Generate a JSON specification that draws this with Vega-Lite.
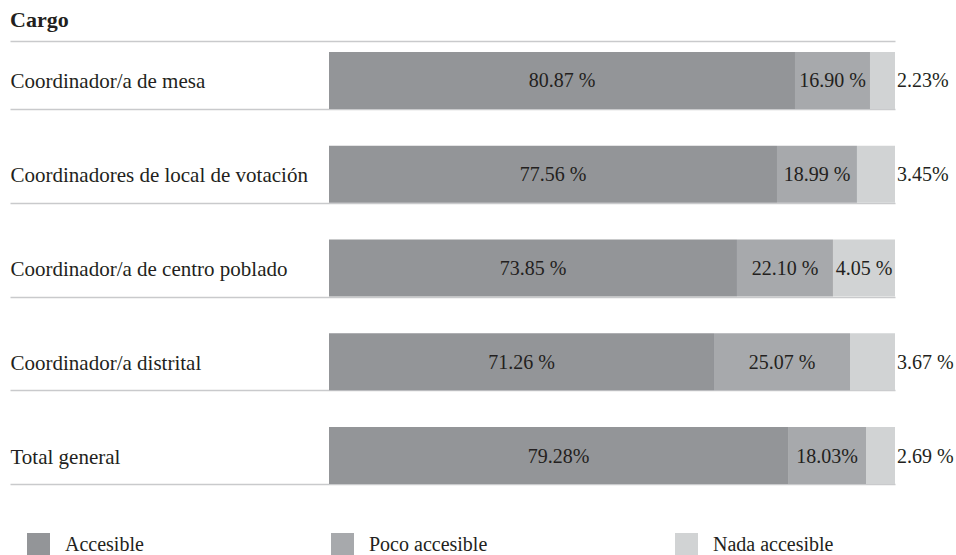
{
  "$schema": "https://vega.github.io/schema/vega-lite/v6.json",
  "autosize": {"type": "none"},
  "padding": {"left": 10, "top": 41, "right": 61, "bottom": 60},
  "width": 885,
  "height": 454,
  "background": "white",
  "title": {"text": "Cargo", "anchor": "start", "font": "Liberation Serif", "fontSize": 22, "fontWeight": "bold", "color": "#231f20", "offset": 9},
  "data": {
    "values": [
      {"cargo": "Coordinador/a de mesa", "tipo": "Accesible", "valor": 82.33, "etiqueta": "80.87 %"},
      {"cargo": "Coordinador/a de mesa", "tipo": "Poco accesible", "valor": 13.25, "etiqueta": "16.90 %"},
      {"cargo": "Coordinador/a de mesa", "tipo": "Nada accesible", "valor": 4.42, "etiqueta": "2.23%"},
      {"cargo": "Coordinadores de local de votación", "tipo": "Accesible", "valor": 79.15, "etiqueta": "77.56 %"},
      {"cargo": "Coordinadores de local de votación", "tipo": "Poco accesible", "valor": 14.13, "etiqueta": "18.99 %"},
      {"cargo": "Coordinadores de local de votación", "tipo": "Nada accesible", "valor": 6.72, "etiqueta": "3.45%"},
      {"cargo": "Coordinador/a de centro poblado", "tipo": "Accesible", "valor": 72.08, "etiqueta": "73.85 %"},
      {"cargo": "Coordinador/a de centro poblado", "tipo": "Poco accesible", "valor": 16.96, "etiqueta": "22.10 %"},
      {"cargo": "Coordinador/a de centro poblado", "tipo": "Nada accesible", "valor": 10.96, "etiqueta": "4.05 %"},
      {"cargo": "Coordinador/a distrital", "tipo": "Accesible", "valor": 68.02, "etiqueta": "71.26 %"},
      {"cargo": "Coordinador/a distrital", "tipo": "Poco accesible", "valor": 24.03, "etiqueta": "25.07 %"},
      {"cargo": "Coordinador/a distrital", "tipo": "Nada accesible", "valor": 7.95, "etiqueta": "3.67 %"},
      {"cargo": "Total general", "tipo": "Accesible", "valor": 81.10, "etiqueta": "79.28%"},
      {"cargo": "Total general", "tipo": "Poco accesible", "valor": 13.78, "etiqueta": "18.03%"},
      {"cargo": "Total general", "tipo": "Nada accesible", "valor": 5.12, "etiqueta": "2.69 %"}
    ]
  },
  "transform": [
    {"calculate": "indexof(['Accesible','Poco accesible','Nada accesible'], datum.tipo)", "as": "orden"},
    {"stack": "valor", "groupby": ["cargo"], "sort": [{"field": "orden", "order": "ascending"}], "as": ["v0", "v1"]},
    {"calculate": "(datum.v0 + datum.v1) / 2", "as": "vmid"}
  ],
  "encoding": {
    "y": {
      "field": "cargo",
      "type": "nominal",
      "sort": null,
      "scale": {"paddingInner": 0.392, "paddingOuter": 0.117},
      "axis": {
        "title": null,
        "domain": false,
        "ticks": false,
        "labelAlign": "left",
        "labelPadding": 0,
        "labelLimit": 400,
        "labelFont": "Liberation Serif",
        "labelFontSize": 21,
        "labelColor": "#231f20",
        "grid": true,
        "gridColor": "#c9cacc",
        "gridWidth": 1.5,
        "tickOffset": 28.5,
        "labelOffset": -27
      }
    }
  },
  "layer": [
    {
      "mark": {"type": "bar"},
      "encoding": {
        "x": {
          "field": "v0",
          "type": "quantitative",
          "scale": {"domain": [-56.36, 100], "nice": false, "zero": false},
          "axis": {"orient": "top", "title": null, "labels": false, "ticks": false, "grid": false, "domain": true, "domainColor": "#c9cacc", "domainWidth": 1.5}
        },
        "x2": {"field": "v1"},
        "color": {
          "field": "tipo",
          "type": "nominal",
          "scale": {"domain": ["Accesible", "Poco accesible", "Nada accesible"], "range": ["#939598", "#a7a9ac", "#d1d3d4"]},
          "legend": {
            "orient": "none",
            "legendX": 17,
            "legendY": 492,
            "direction": "horizontal",
            "title": null,
            "symbolType": "square",
            "symbolSize": 529,
            "symbolStrokeWidth": 0,
            "labelFont": "Liberation Serif",
            "labelFontSize": 20,
            "labelColor": "#231f20",
            "labelOffset": 15,
            "labelLimit": 400,
            "columnPadding": 187,
            "padding": 0
          }
        }
      }
    },
    {
      "transform": [{"filter": "datum.v1 - datum.v0 >= 9"}],
      "mark": {"type": "text", "font": "Liberation Serif", "fontSize": 20, "color": "#231f20", "baseline": "middle", "align": "center", "dy": 1},
      "encoding": {
        "x": {"field": "vmid", "type": "quantitative"},
        "text": {"field": "etiqueta"}
      }
    },
    {
      "transform": [{"filter": "datum.v1 - datum.v0 < 9"}],
      "mark": {"type": "text", "font": "Liberation Serif", "fontSize": 20, "color": "#231f20", "baseline": "middle", "align": "left", "dx": 2, "dy": 1},
      "encoding": {
        "x": {"field": "v1", "type": "quantitative"},
        "text": {"field": "etiqueta"}
      }
    }
  ],
  "config": {"view": {"stroke": null}, "font": "Liberation Serif"}
}
